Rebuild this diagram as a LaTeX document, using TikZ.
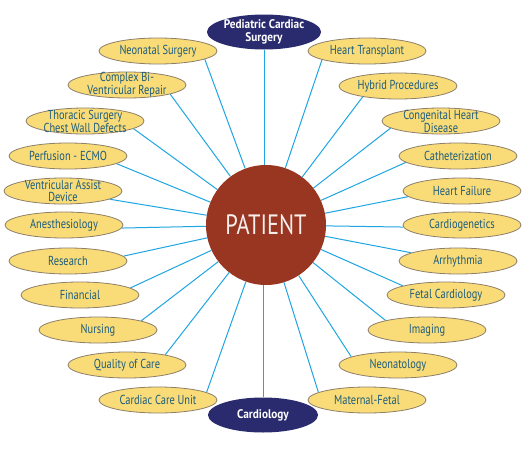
\documentclass[tikz,border=0pt]{standalone}
\usepackage{fontspec}
\setmainfont{PT Sans}[FakeStretch=0.8]
\newfontfamily\boldsans{PT Sans}[FakeStretch=0.9]
\newfontfamily\patfont{PT Sans}[FakeStretch=0.8]
\usetikzlibrary{shapes.geometric,backgrounds}
\definecolor{ellfill}{HTML}{F9DB78}
\definecolor{elledge}{HTML}{8E8068}
\definecolor{elltext}{HTML}{1C5C7C}
\definecolor{linkcol}{HTML}{1FA6E2}
\definecolor{patcol}{HTML}{983622}
\definecolor{navy}{HTML}{2A2B6E}
\tikzset{
  topic/.style={ellipse, draw=elledge, line width=0.8pt, fill=ellfill,
    minimum width=118pt, minimum height=26pt, inner xsep=0pt, inner ysep=-5pt,
    align=center, text=elltext, font=\fontsize{13}{11.6}\selectfont},
  hub/.style={ellipse, fill=navy, minimum width=114pt, minimum height=35pt,
    inner xsep=0pt, inner ysep=-5pt, align=center, text=white,
    font=\boldsans\bfseries\fontsize{12.5}{12.5}\selectfont},
  link/.style={draw=linkcol, line width=1pt},
  patient/.style={circle, fill=patcol, minimum size=120pt, inner sep=0pt,
    text=white!92!patcol, font=\patfont\fontsize{28}{28}\selectfont}
}
\begin{document}
\begin{tikzpicture}[x=1pt,y=-1pt]
\useasboundingbox (0,0) rectangle (525,450);
\node[patient] (P) at (266,225) {PATIENT};
\node[hub] (T) at (264,32) {Pediatric Cardiac\\Surgery};
\node[hub, minimum width=110pt] (B) at (263,415) {Cardiology};
% left
\node[topic] (L1) at (158,51) {Neonatal Surgery};
\node[topic] (L2) at (127,85) {Complex Bi-\\Ventricular Repair};
\node[topic] (L3) at (85,121) {Thoracic Surgery\\Chest Wall Defects};
\node[topic] (L4) at (68,156) {Perfusion - ECMO};
\node[topic] (L5) at (63,191) {Ventricular Assist\\Device};
\node[topic] (L6) at (64,225) {Anesthesiology};
\node[topic] (L7) at (68,261) {Research};
\node[topic] (L8) at (80,295) {Financial};
\node[topic] (L9) at (98,330) {Nursing};
\node[topic] (L10) at (127,365) {Quality of Care};
\node[topic] (L11) at (158,400) {Cardiac Care Unit};
% right
\node[topic] (R1) at (367,51) {Heart Transplant};
\node[topic] (R2) at (398,86) {Hybrid Procedures};
\node[topic] (R3) at (441,121) {Congenital Heart\\Disease};
\node[topic] (R4) at (458,156) {Catheterization};
\node[topic] (R5) at (462,191) {Heart Failure};
\node[topic] (R6) at (462,225) {Cardiogenetics};
\node[topic] (R7) at (458,261) {Arrhythmia};
\node[topic] (R8) at (446,295) {Fetal Cardiology};
\node[topic] (R9) at (427,330) {Imaging};
\node[topic] (R10) at (398,365) {Neonatology};
\node[topic] (R11) at (367,400) {Maternal-Fetal};
\begin{scope}[on background layer]
\fill[white] (0,0) rectangle (525,450);
\draw[link] (T) -- (T |- P.center);
\draw[link] (B) -- (B |- P.center);
\draw[link] (L1.-10.6) -- (P);
\draw[link] (L2.-12) -- (P);
\draw[link] (L3.-9) -- (P);
\draw[link] (L4.-9) -- (P);
\draw[link] (L5.-10) -- (P);
\draw[link] (L6.-3) -- (P);
\draw[link] (L7.5) -- (P);
\draw[link] (L8.8) -- (P);
\draw[link] (L9.12) -- (P);
\draw[link] (L10.15) -- (P);
\draw[link] (L11.9.5) -- (P);
\draw[link] (R1.191) -- (P);
\draw[link] (R2.197) -- (P);
\draw[link] (R3.188) -- (P);
\draw[link] (R4.187) -- (P);
\draw[link] (R5.186) -- (P);
\draw[link] (R6.182) -- (P);
\draw[link] (R7.170) -- (P);
\draw[link] (R8.168) -- (P);
\draw[link] (R9.167) -- (P);
\draw[link] (R10.170) -- (P);
\draw[link] (R11.171) -- (P);
\end{scope}
\end{tikzpicture}
\end{document}
